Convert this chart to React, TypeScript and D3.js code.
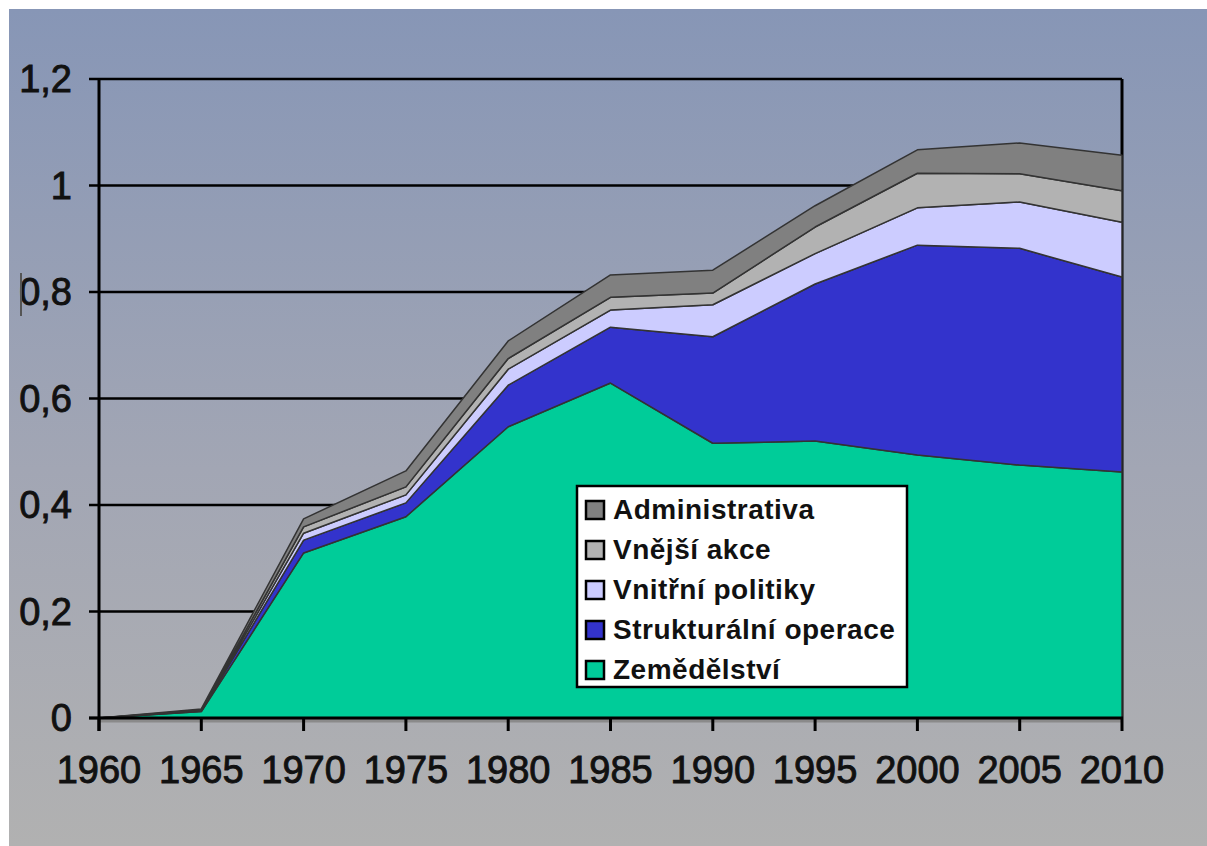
import React from "react";
import * as d3 from "d3";

// EU budget shares by heading, 1960-2010
const years = [1960, 1965, 1970, 1975, 1980, 1985, 1990, 1995, 2000, 2005, 2010];
const zemedelstvi = [0, 0.012, 0.31, 0.378, 0.547, 0.629, 0.516, 0.52, 0.494, 0.475, 0.462];
const strukturalni = [0, 0.001, 0.024, 0.026, 0.078, 0.105, 0.2, 0.295, 0.394, 0.407, 0.366];
const vnitrni = [0, 0.001, 0.013, 0.015, 0.03, 0.032, 0.06, 0.057, 0.07, 0.087, 0.103];
const vnejsi = [0, 0.001, 0.012, 0.015, 0.02, 0.024, 0.022, 0.05, 0.065, 0.053, 0.059];
const administrativa = [0, 0.002, 0.015, 0.03, 0.033, 0.042, 0.043, 0.04, 0.044, 0.058, 0.067];

const seriesNames = ["Zemědělství", "Strukturální operace", "Vnitřní politiky", "Vnější akce", "Administrativa"];
const seriesColors = ["#00cc99", "#3333cc", "#ccccff", "#b2b2b2", "#808080"];
const yTicks = [0, 0.2, 0.4, 0.6, 0.8, 1, 1.2];
const xTicks = years;

const W = 1207;
const H = 846;
const font = "'Liberation Sans', Arial, sans-serif";

export default function App() {
  const x = d3.scaleLinear().domain([1960, 2010]).range([99, 1122]);
  const y = d3.scaleLinear().domain([0, 1.2]).range([718, 79]);

  const rows = years.map((yr, i) => ({
    year: yr,
    [seriesNames[0]]: zemedelstvi[i],
    [seriesNames[1]]: strukturalni[i],
    [seriesNames[2]]: vnitrni[i],
    [seriesNames[3]]: vnejsi[i],
    [seriesNames[4]]: administrativa[i],
  }));
  const stacked = d3.stack<any>().keys(seriesNames)(rows);

  const area = d3
    .area<any>()
    .x((d) => x(d.data.year))
    .y0((d) => y(d[0]))
    .y1((d) => y(d[1]));

  const fmt = (v: number) => String(v).replace(".", ",");
  const legendOrder = seriesNames.map((n, i) => ({ n, c: seriesColors[i] })).reverse();

  return (
    <svg width={W} height={H} style={{ position: "absolute", left: 0, top: 0, display: "block" }}>
      <defs>
        <linearGradient id="bg" x1="0" y1="0" x2="0" y2="1">
          <stop offset="0%" stopColor="#8796b6" />
          <stop offset="55%" stopColor="#a2a6b4" />
          <stop offset="100%" stopColor="#b1b1b1" />
        </linearGradient>
      </defs>
      <rect x={0} y={0} width={W} height={H} fill="#fff" />
      <rect x={9} y={9} width={W - 9} height={H - 9} fill="url(#bg)" />

      {/* gridlines */}
      {yTicks.map((t) => (
        <line key={t} x1={89} x2={1122} y1={y(t)} y2={y(t)} stroke="#000" strokeWidth={2.5} />
      ))}
      <line x1={1122} x2={1122} y1={y(1.2)} y2={y(0)} stroke="#000" strokeWidth={3} />

      {/* stacked areas */}
      {stacked.map((s, i) => (
        <path
          key={s.key}
          d={area(s) || ""}
          fill={seriesColors[i]}
          stroke="#333"
          strokeWidth={1.5}
          strokeLinejoin="round"
        />
      ))}

      {/* axes */}
      <rect x={99} y={719.5} width={1023} height={3} fill="#8a8a8a" />
      <line x1={99} x2={99} y1={y(1.2) - 1} y2={731} stroke="#000" strokeWidth={3} />
      <line x1={89} x2={1123} y1={y(0)} y2={y(0)} stroke="#000" strokeWidth={3} />
      {xTicks.map((t) => (
        <line key={t} x1={x(t)} x2={x(t)} y1={718} y2={731} stroke="#000" strokeWidth={3} />
      ))}
      {xTicks.map((t) => (
        <text key={t} x={x(t)} y={783} textAnchor="middle" fontFamily={font} fontSize={38}
          fill="#111" stroke="#111" strokeWidth={0.9}>
          {t}
        </text>
      ))}
      {yTicks.map((t) => (
        <text key={t} x={72} y={y(t) + 13} textAnchor="end" fontFamily={font} fontSize={38}
          fill="#111" stroke="#111" strokeWidth={0.9}>
          {fmt(t)}
        </text>
      ))}
      <line x1={21} x2={21} y1={273} y2={316} stroke="#555" strokeWidth={2} />

      {/* legend */}
      <rect x={577} y={486} width={330} height={201} fill="#fff" stroke="#000" strokeWidth={2.5} />
      {legendOrder.map((d, i) => (
        <g key={d.n} transform={`translate(0, ${510 + i * 40})`}>
          <rect x={586} y={-9} width={18} height={18} fill={d.c} stroke="#000" strokeWidth={2.5} />
          <text x={613} y={9} fontFamily={font} fontSize={28} fontWeight="bold" fill="#111"
            letterSpacing={0.5}>
            {d.n}
          </text>
        </g>
      ))}
    </svg>
  );
}
